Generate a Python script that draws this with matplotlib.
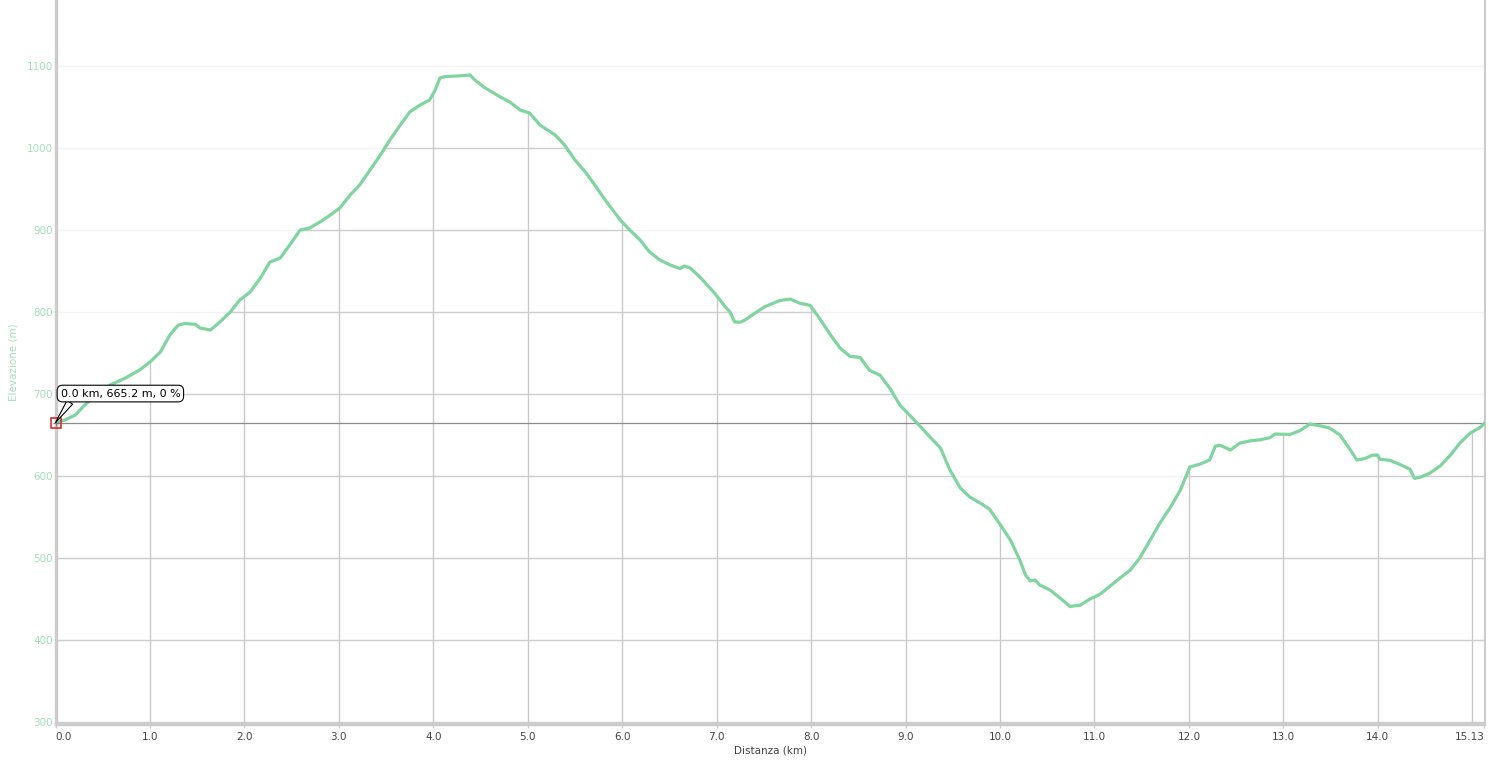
"""Elevation profile (Distanza vs Elevazione) with a hover tooltip at the start point."""
import numpy as np
import matplotlib
matplotlib.use("Agg")
import matplotlib.pyplot as plt

# --- data ---------------------------------------------------------------------
km = [0.00, 0.10, 0.21, 0.31, 0.42, 0.58, 0.74, 0.89, 1.00, 1.11, 1.21, 1.30,
      1.37, 1.48, 1.53, 1.64, 1.74, 1.85, 1.95, 2.06, 2.17, 2.27, 2.38, 2.48,
      2.59, 2.69, 2.80, 2.91, 3.01, 3.12, 3.22, 3.33, 3.44, 3.54, 3.65, 3.75,
      3.86, 3.96, 4.02, 4.07, 4.12, 4.28, 4.39, 4.44, 4.55, 4.71, 4.81, 4.92,
      5.02, 5.13, 5.29, 5.39, 5.50, 5.61, 5.71, 5.82, 5.98, 6.08, 6.19, 6.29,
      6.40, 6.51, 6.61, 6.66, 6.72, 6.82, 6.88, 6.98, 7.09, 7.14, 7.19, 7.25,
      7.30, 7.41, 7.51, 7.67, 7.78, 7.88, 7.99, 8.09, 8.20, 8.31, 8.41, 8.52,
      8.62, 8.73, 8.84, 8.94, 9.05, 9.15, 9.26, 9.37, 9.47, 9.58, 9.68, 9.79,
      9.89, 10.00, 10.11, 10.21, 10.27, 10.32, 10.37, 10.42, 10.53, 10.64,
      10.74, 10.85, 10.95, 11.06, 11.17, 11.27, 11.38, 11.48, 11.59, 11.70,
      11.80, 11.91, 12.01, 12.12, 12.22, 12.28, 12.33, 12.44, 12.54, 12.65,
      12.75, 12.86, 12.91, 13.07, 13.18, 13.28, 13.39, 13.49, 13.60, 13.71,
      13.78, 13.87, 13.94, 14.00, 14.02, 14.13, 14.23, 14.34, 14.39, 14.45,
      14.55, 14.66, 14.77, 14.87, 14.98, 15.09, 15.13]
elev = [665.2, 668.3, 674.4, 686.6, 698.8, 711.0, 719.5, 729.3, 739.0, 751.2,
        771.9, 784.1, 786.0, 785.0, 780.5, 778.0, 787.8, 800.0, 814.6, 824.4,
        841.5, 861.0, 865.9, 881.7, 900.0, 902.4, 909.8, 918.3, 926.8, 942.7,
        954.9, 973.2, 991.5, 1009.8, 1028.0, 1043.9, 1052.4, 1058.5, 1070.7,
        1085.4, 1087.0, 1088.0, 1089.0, 1082.9, 1073.2, 1062.2, 1056.1, 1046.3,
        1042.7, 1028.0, 1015.9, 1003.7, 985.4, 970.7, 954.9, 936.6, 912.2,
        900.0, 887.8, 873.2, 863.4, 857.3, 853.0, 856.0, 853.7, 843.0, 835.5,
        822.8, 806.5, 800.4, 788.0, 787.6, 790.2, 799.0, 806.5, 814.1, 815.8,
        810.8, 808.1, 792.2, 772.9, 755.7, 746.1, 744.5, 728.8, 723.0, 705.9,
        686.6, 673.4, 661.2, 647.4, 634.2, 607.3, 585.4, 574.4, 567.1, 559.5,
        541.2, 522.0, 497.6, 479.3, 472.2, 473.2, 467.1, 461.0, 450.8, 441.0,
        442.5, 449.8, 455.9, 466.1, 475.6, 485.4, 500.0, 522.0, 543.9, 561.0,
        582.9, 611.0, 614.6, 619.6, 636.4, 637.6, 631.7, 640.2, 642.9, 644.1,
        646.8, 651.2, 650.7, 655.5, 663.4, 661.2, 658.5, 650.0, 631.7, 619.5,
        621.5, 625.4, 625.6, 620.5, 619.1, 614.4, 608.3, 597.1, 598.6, 603.4,
        612.2, 625.6, 640.2, 652.4, 659.8, 664.6]

x_ticks = [0, 1, 2, 3, 4, 5, 6, 7, 8, 9, 10, 11, 12, 13, 14, 15.13]
x_ticklabels = ["0.0", "1.0", "2.0", "3.0", "4.0", "5.0", "6.0", "7.0", "8.0",
                "9.0", "10.0", "11.0", "12.0", "13.0", "14.0", "15.13"]
x_grid = list(range(0, 16))
y_ticks = [300, 400, 500, 600, 700, 800, 900, 1000, 1100]

hover_km, hover_elev, hover_grade = 0.0, 665.2, 0

LINE = "#80d4a0"
TICK_GREEN = "#a6e0ba"
AXIS_GREY = "#cccccc"

# --- figure --------------------------------------------------------------------
fig = plt.figure(figsize=(14.89, 7.65), dpi=100)
ax = fig.add_axes([55.5 / 1489, 41 / 765, (1484.5 - 55.5) / 1489, 724 / 765])
ymin, ymax = 297.6, 1180.5
ax.set_xlim(0, 15.13)
ax.set_ylim(ymin, ymax)

# faint grid everywhere
for y in y_ticks:
    ax.axhline(y, color="#f3f3f3", lw=1, zorder=1)

# darker grid, only under the profile
under = ax.fill_between(km, elev, ymin, facecolor="none", edgecolor="none")
clip = under.get_paths()[0]
for y in y_ticks:
    ln = ax.axhline(y, color="#cfcfcf", lw=1, zorder=2)
    ln.set_clip_path(clip, ax.transData)
for xg in x_grid:
    ln = ax.axvline(xg, color="#cacaca", lw=1, zorder=2)
    ln.set_clip_path(clip, ax.transData)

ax.plot(km, elev, color=LINE, lw=2.3, solid_joinstyle="round", zorder=4)

# crosshair + hover marker
ax.axhline(hover_elev, color="#8c8c8c", lw=0.9, zorder=3)
ax.plot([hover_km], [hover_elev], marker="s", ms=7, mfc="none", mec="#d42020",
        mew=1.1, zorder=6, clip_on=False)
ax.plot([hover_km], [hover_elev], marker="+", ms=5, color="#777777", mew=0.8,
        zorder=6, clip_on=False)
ax.annotate(f"{hover_km:.1f} km, {hover_elev:.1f} m, {hover_grade} %",
            xy=(hover_km, hover_elev), xytext=(5, 24), textcoords="offset pixels",
            ha="left", va="bottom", fontsize=8, color="black", zorder=7,
            bbox=dict(boxstyle="round,pad=0.3,rounding_size=0.5", fc="white",
                      ec="black", lw=0.8),
            arrowprops=dict(arrowstyle="wedge,tail_width=0.6,shrink_factor=0.5",
                            fc="white", ec="black", lw=0.8, relpos=(0.1, 0.0),
                            shrinkA=0, shrinkB=0))

# axes styling
ax.spines["top"].set_visible(False)
ax.spines["left"].set_color(AXIS_GREY)
ax.spines["left"].set_linewidth(2.5)
ax.spines["bottom"].set_color(AXIS_GREY)
ax.spines["bottom"].set_linewidth(2.5)
ax.spines["right"].set_color(AXIS_GREY)
ax.spines["right"].set_linewidth(1.5)

ax.set_xticks(x_ticks)
ax.set_xticklabels(x_ticklabels)
ax.tick_params(axis="x", length=3, width=1, color=AXIS_GREY, labelsize=7.5,
               labelcolor="#444444", pad=3)
labels = ax.get_xticklabels()
labels[0].set_ha("left")
labels[-1].set_ha("right")

ax.set_yticks(y_ticks)
ax.tick_params(axis="y", length=0, labelsize=7.5, labelcolor=TICK_GREEN, pad=2)

ax.set_xlabel("Distanza (km)", fontsize=7.5, color="#444444", labelpad=2)
ax.set_ylabel("Elevazione (m)", fontsize=7.5, color=TICK_GREEN, labelpad=6)

fig.savefig("out.png", dpi=100)
